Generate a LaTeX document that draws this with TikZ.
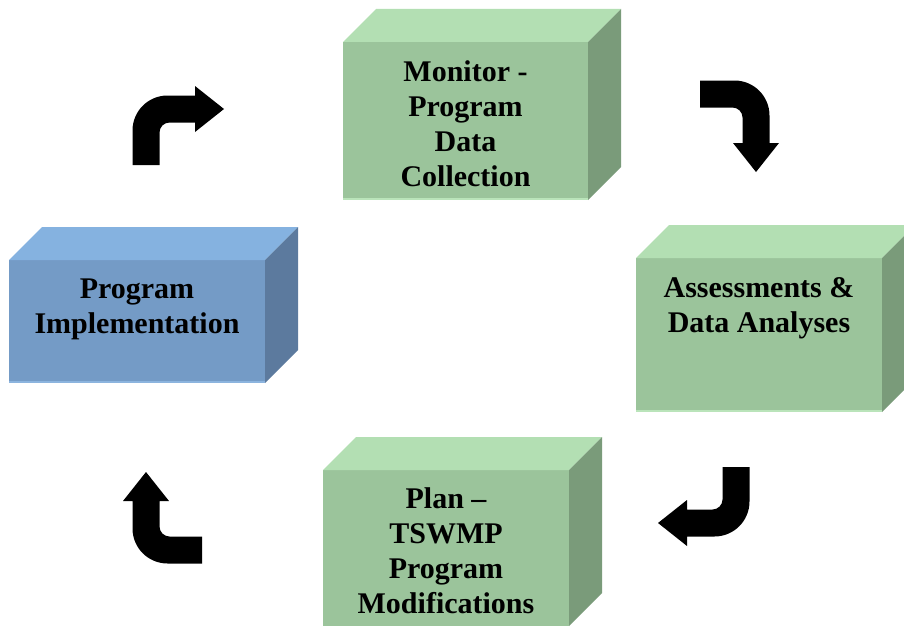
\documentclass[tikz,border=0pt]{standalone}
\usepackage{fontspec}
\setmainfont{Liberation Serif}
\usepackage{xcolor}

\definecolor{greenfront}{RGB}{155,196,155}
\definecolor{greentop}{RGB}{179,223,179}
\definecolor{greenside}{RGB}{122,155,122}
\definecolor{greenedge}{RGB}{186,228,186}
\definecolor{bluefront}{RGB}{116,155,198}
\definecolor{bluetop}{RGB}{133,178,224}
\definecolor{blueside}{RGB}{92,122,158}
\definecolor{blueedge}{RGB}{140,180,222}

\tikzset{
  front/.style={inner sep=0pt,outer sep=0pt},
  boxtext/.style={font=\fontsize{30}{35}\selectfont\bfseries,align=center,inner sep=0pt},
  bentarrow/.pic={
    \fill (-13.5,0) -- (-13.5,34.5) arc[start angle=180,end angle=90,radius=35pt]
      -- (49,69.5) -- (49,79) -- (78,56) -- (49,33) -- (49,42.5) -- (23.5,42.5)
      arc[start angle=90,end angle=180,radius=10pt] -- (13.5,0) -- cycle;
  }
}

\begin{document}
\begin{tikzpicture}[x=1pt,y=1pt]
\useasboundingbox (0,0) rectangle (904,-626);
\clip (0,0) rectangle (904,-626);
% front faces
\path
    (465.5,-121) node [front,fill=greenfront,minimum width=245pt,minimum height=158pt] (monitor) {}
    (759,-335) node [front,fill=greenfront,minimum width=246pt,minimum height=154pt] (assess) {}
    (446,-548) node [front,fill=greenfront,minimum width=246pt,minimum height=156pt] (plan) {}
    (137,-321.5) node [front,fill=bluefront,minimum width=256pt,minimum height=123pt] (impl) {};
% top and side faces
\fill [greentop] (monitor.north west) -- ++(33,33) -- ([shift={(33,33)}]monitor.north east) -- (monitor.north east) -- cycle;
\fill [greenside] (monitor.north east) -- ++(33,33) -- ([shift={(33,33)}]monitor.south east) -- (monitor.south east) -- cycle;
\fill [greentop] (assess.north west) -- ++(33,33) -- ([shift={(33,33)}]assess.north east) -- (assess.north east) -- cycle;
\fill [greenside] (assess.north east) -- ++(33,33) -- ([shift={(33,33)}]assess.south east) -- (assess.south east) -- cycle;
\fill [greentop] (plan.north west) -- ++(33,33) -- ([shift={(33,33)}]plan.north east) -- (plan.north east) -- cycle;
\fill [greenside] (plan.north east) -- ++(33,33) -- ([shift={(33,33)}]plan.south east) -- (plan.south east) -- cycle;
\fill [bluetop] (impl.north west) -- ++(33,33) -- ([shift={(33,33)}]impl.north east) -- (impl.north east) -- cycle;
\fill [blueside] (impl.north east) -- ++(33,33) -- ([shift={(33,33)}]impl.south east) -- (impl.south east) -- cycle;
% light bottom edges
\draw [greenedge,line width=2pt] ([yshift=1pt]monitor.south west) -- ([yshift=1pt]monitor.south east);
\draw [greenedge,line width=2pt] ([yshift=1pt]assess.south west) -- ([yshift=1pt]assess.south east);
\draw [blueedge,line width=2pt] ([yshift=1pt]impl.south west) -- ([yshift=1pt]impl.south east);
% labels
\path
    ([yshift=-3pt]monitor.center) node [boxtext] (monitor text) {Monitor -\\Program\\Data\\Collection}
    ([yshift=27pt]assess.center) node [boxtext] (assess text) {Assessments \&\\Data Analyses}
    ([yshift=-3pt]plan.center) node [boxtext] (plan text) {Plan –\\TSWMP\\Program\\Modifications}
    ([yshift=12pt]impl.center) node [boxtext] (impl text) {Program\\Implementation};
% cycle arrows
\path
    (146,-165) pic (turn1) {bentarrow}
    (700,-94) pic [rotate=-90] (turn2) {bentarrow}
    (736,-467) pic [rotate=180] (turn3) {bentarrow}
    (202,-550) pic [rotate=90] (turn4) {bentarrow};
\end{tikzpicture}
\end{document}
